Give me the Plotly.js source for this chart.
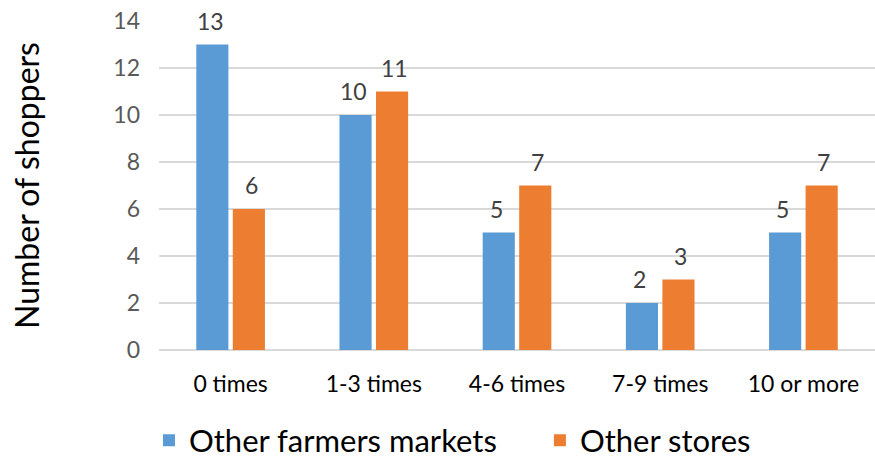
<!DOCTYPE html>
<html>
<head>
<meta charset="utf-8">
<script src="https://cdn.plot.ly/plotly-3.0.1.min.js"></script>
<style>html,body{margin:0;padding:0;background:#fff;}#chart{width:875px;height:462px;}</style>
</head>
<body>
<div id="chart"></div>
<script>
const categories = ["0 times", "1-3 times", "4-6 times", "7-9 times", "10 or more"];
const farmersMarkets = [13, 10, 5, 2, 5];
const otherStores = [6, 11, 7, 3, 7];
const seriesNames = ["Other farmers markets", "Other stores"];
const yTicks = [0, 2, 4, 6, 8, 10, 12, 14];

const FONT = "Lato, 'Open Sans', sans-serif";
const BLUE = "#5B9BD5", ORANGE = "#ED7D31";

const traces = [
  {type: "bar", name: seriesNames[0], x: categories, y: farmersMarkets,
   marker: {color: BLUE}, hoverinfo: "skip", legend: "legend"},
  {type: "bar", name: seriesNames[1], x: categories, y: otherStores,
   marker: {color: ORANGE}, hoverinfo: "skip", legend: "legend2"}
];

const annotations = [];
categories.forEach((c, i) => {
  annotations.push({x: c, y: farmersMarkets[i], xref: "x", yref: "y", text: String(farmersMarkets[i]),
    showarrow: false, yanchor: "bottom", xshift: -20.5, yshift: 8,
    font: {family: FONT, size: 23, color: "#404040"}});
  annotations.push({x: c, y: otherStores[i], xref: "x", yref: "y", text: String(otherStores[i]),
    showarrow: false, yanchor: "bottom", xshift: 20.5, yshift: 8,
    font: {family: FONT, size: 23, color: "#404040"}});
});

const legendStyle = {
  orientation: "h", xanchor: "left", y: -0.275, yanchor: "middle",
  font: {family: FONT, size: 31, color: "#000"}, itemwidth: 30
};

const layout = {
  width: 875, height: 462,
  margin: {l: 159, r: 0, t: 21, b: 112, autoexpand: false},
  paper_bgcolor: "#fff", plot_bgcolor: "#fff",
  barmode: "group", bargap: 0.49, bargroupgap: 0.12,
  font: {family: FONT},
  xaxis: {
    type: "category", showgrid: false, zeroline: false, showline: false,
    ticks: "", ticklabelstandoff: 18,
    tickfont: {family: FONT, size: 23, color: "#000"}
  },
  yaxis: {
    range: [0, 14], tickvals: yTicks, ticktext: yTicks.map(String),
    showgrid: true, gridcolor: "#D9D9D9", gridwidth: 1.5,
    zeroline: true, zerolinecolor: "#D9D9D9", zerolinewidth: 1.5,
    showline: false, ticks: "", ticklabelstandoff: 18,
    tickfont: {family: FONT, size: 23, color: "#595959"},
    title: {text: "Number of shoppers", standoff: 64, font: {family: FONT, size: 32, color: "#000"}},
    automargin: false
  },
  showlegend: true,
  legend: Object.assign({x: -0.014}, legendStyle),
  legend2: Object.assign({x: 0.532}, legendStyle),
  annotations: annotations
};

Plotly.newPlot("chart", traces, layout, {displayModeBar: false, staticPlot: true});
</script>
</body>
</html>
